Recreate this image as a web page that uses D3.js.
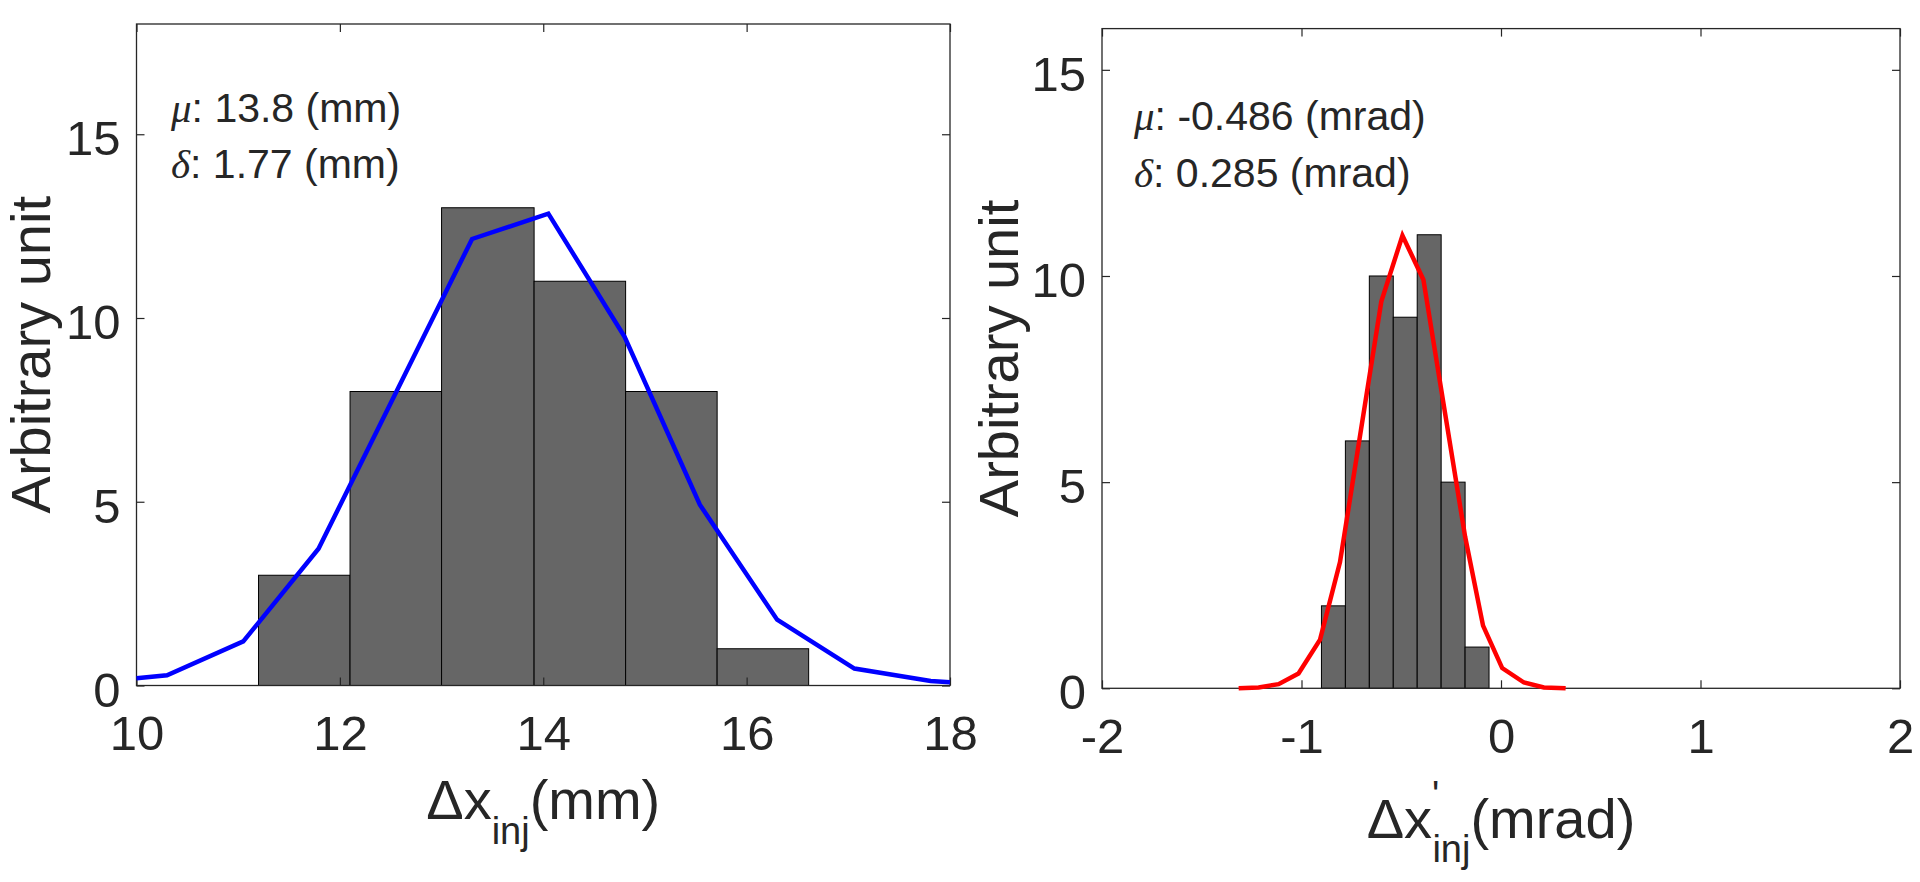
<!DOCTYPE html>
<html>
<head>
<meta charset="utf-8">
<script src="https://cdn.jsdelivr.net/npm/d3@7"></script>
<style>
  body { margin: 0; background: #fff; }
  text { fill: #262626; font-family: "Liberation Sans", Arial, sans-serif; }
</style>
</head>
<body>
<svg id="fig" width="1920" height="882"></svg>
<script>
// ---- data ----
// left: horizontal offset at injection (mm)
const dxEdges  = [11.20, 12.10, 13.00, 13.91, 14.81, 15.71, 16.61];
const dxCounts = [3, 8, 13, 11, 8, 1];
const dxFitX   = [10.00, 10.30, 11.05, 11.79, 13.30, 14.05, 14.80, 15.54, 16.30, 17.06, 17.81, 18.00];
const dxFitY   = [0.20, 0.28, 1.20, 3.72, 12.15, 12.84, 9.49, 4.92, 1.79, 0.46, 0.12, 0.09];
const dxTicksX = [10, 12, 14, 16, 18];
const dxTicksY = [0, 5, 10, 15];
const dxStats  = ["13.8 (mm)", "1.77 (mm)"];

// right: angular offset at injection (mrad)
const dpEdges  = [-0.90, -0.78, -0.66, -0.54, -0.42, -0.30, -0.18, -0.06];
const dpCounts = [2, 6, 10, 9, 11, 5, 1];
const dpFitX   = [-1.315, -1.215, -1.115, -1.015, -0.907, -0.807, -0.600, -0.494, -0.389, -0.180, -0.090, 0.006, 0.115, 0.215, 0.324];
const dpFitY   = [0.00, 0.02, 0.10, 0.36, 1.18, 3.06, 9.38, 10.98, 9.91, 3.68, 1.52, 0.49, 0.14, 0.02, 0.00];
const dpTicksX = [-2, -1, 0, 1, 2];
const dpTicksY = [0, 5, 10, 15];
const dpStats  = ["-0.486 (mrad)", "0.285 (mrad)"];

const svg = d3.select("#fig");
const axisColor = "#262626";
const plain = d => String(d);   // hyphen minus, no decimals, like the original

function drawPanel(p) {
  const x = d3.scaleLinear().domain(p.xDomain).range([p.left, p.right]);
  const y = d3.scaleLinear().domain(p.yDomain).range([p.bottom, p.top]);
  const g = svg.append("g");

  // histogram bars
  g.selectAll("rect.bar")
    .data(p.counts)
    .enter().append("rect")
    .attr("class", "bar")
    .attr("x", (d, i) => x(p.edges[i]))
    .attr("width", (d, i) => x(p.edges[i + 1]) - x(p.edges[i]))
    .attr("y", d => y(d))
    .attr("height", d => y(0) - y(d))
    .attr("fill", "#666666")
    .attr("stroke", "#000")
    .attr("stroke-width", 1);

  // axes, ticks inside on all four sides
  const tk = 8;
  const bottom = g.append("g")
    .attr("transform", `translate(0,${p.bottom})`)
    .call(d3.axisBottom(x).tickValues(p.xTicks).tickFormat(plain).tickSizeInner(-tk).tickSizeOuter(0).tickPadding(30));
  const top = g.append("g")
    .attr("transform", `translate(0,${p.top})`)
    .call(d3.axisTop(x).tickValues(p.xTicks).tickFormat("").tickSizeInner(-tk).tickSizeOuter(0));
  const left = g.append("g")
    .attr("transform", `translate(${p.left},0)`)
    .call(d3.axisLeft(y).tickValues(p.yTicks).tickFormat(plain).tickSizeInner(-tk).tickSizeOuter(0).tickPadding(16));
  const right = g.append("g")
    .attr("transform", `translate(${p.right},0)`)
    .call(d3.axisRight(y).tickValues(p.yTicks).tickFormat("").tickSizeInner(-tk).tickSizeOuter(0));

  [bottom, top, left, right].forEach(a => {
    a.select(".domain").remove();
    a.selectAll(".tick line").attr("stroke", axisColor).attr("stroke-width", 1.2);
    a.selectAll(".tick text")
      .attr("fill", axisColor)
      .style("font-family", '"Liberation Sans", Arial, sans-serif')
      .style("font-size", "49px");
  });
  left.selectAll(".tick text").attr("dy", "0.42em");

  // box
  g.append("rect")
    .attr("x", p.left).attr("y", p.top)
    .attr("width", p.right - p.left).attr("height", p.bottom - p.top)
    .attr("fill", "none").attr("stroke", axisColor).attr("stroke-width", 1.3);

  // fitted curve
  const line = d3.line().x(d => x(d[0])).y(d => y(d[1]));
  g.append("path")
    .datum(d3.zip(p.fitX, p.fitY))
    .attr("d", line)
    .attr("fill", "none")
    .attr("stroke", p.lineColor)
    .attr("stroke-width", 4.5);

  // mean / sigma notes
  const syms = ["\u03bc", "\u03b4"];
  p.stats.forEach((s, i) => {
    const t = g.append("text")
      .attr("x", p.noteX)
      .attr("y", p.noteY + i * p.noteGap)
      .style("font-size", "41px");
    t.append("tspan")
      .style("font-family", '"Liberation Serif", "Times New Roman", serif')
      .style("font-style", "italic")
      .text(syms[i]);
    t.append("tspan").text(": " + s);
  });

  // y label
  g.append("text")
    .attr("transform", `translate(${p.yLabelX},${(p.top + p.bottom) / 2}) rotate(-90)`)
    .attr("text-anchor", "middle")
    .style("font-size", "56px")
    .text("Arbitrary unit");

  // x label
  const xl = g.append("text")
    .attr("x", (p.left + p.right) / 2)
    .attr("y", p.xLabelY)
    .attr("text-anchor", "middle")
    .style("font-size", "56px");
  xl.append("tspan").text("\u0394x");
  if (p.prime) {
    xl.append("tspan").attr("dy", -30).style("font-size", "38px").text("'");
    xl.append("tspan").attr("dy", 54).attr("dx", -7).style("font-size", "38px").text("inj");
    xl.append("tspan").attr("dy", -24).text(p.unit);
  } else {
    xl.append("tspan").attr("dy", 25).style("font-size", "38px").text("inj");
    xl.append("tspan").attr("dy", -25).text(p.unit);
  }
}

drawPanel({
  left: 136.5, right: 950, top: 24, bottom: 685.5,
  xDomain: [10, 18], yDomain: [0, 18],
  xTicks: dxTicksX, yTicks: dxTicksY,
  edges: dxEdges, counts: dxCounts,
  fitX: dxFitX, fitY: dxFitY, lineColor: "#0000ff",
  stats: dxStats, noteX: 171, noteY: 122, noteGap: 56,
  yLabelX: 50, xLabelY: 819, unit: "(mm)", prime: false
});

drawPanel({
  left: 1102, right: 1900, top: 28.6, bottom: 688.3,
  xDomain: [-2, 2], yDomain: [0, 16],
  xTicks: dpTicksX, yTicks: dpTicksY,
  edges: dpEdges, counts: dpCounts,
  fitX: dpFitX, fitY: dpFitY, lineColor: "#ff0000",
  stats: dpStats, noteX: 1134, noteY: 130, noteGap: 57,
  yLabelX: 1018, xLabelY: 838, unit: "(mrad)", prime: true
});
</script>
</body>
</html>
